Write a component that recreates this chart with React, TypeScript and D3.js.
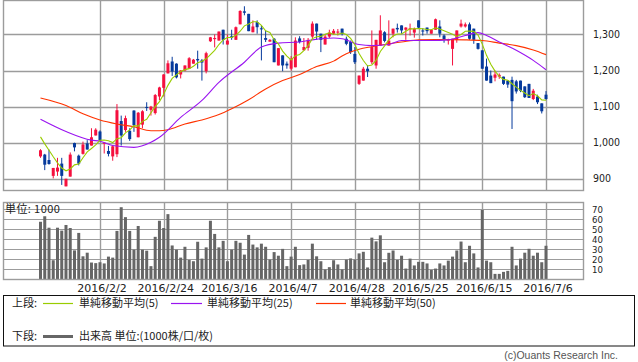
import React from "react";
import * as d3 from "d3";

// ---- data ----
const dateLabels = ["2016/2/2", "2016/2/24", "2016/3/16", "2016/4/7", "2016/4/28", "2016/5/25", "2016/6/15", "2016/7/6"];
const dateIdx = [14, 29, 44, 59, 74, 89, 104, 119];

const opens = [
  962, 967, 952, 908, 920, 942, 879, 906, 999, 964,
  969, 998, 992, 1020, 1031, 998, 977, 962, 968, 1060,
  1035, 1033, 1089, 1015, 1050, 1099, 1091, 1082, 1128, 1152,
  1192, 1225, 1219, 1189, 1200, 1205, 1219, 1232, 1228, 1198,
  1281, 1287, 1283, 1313, 1272, 1295, 1285, 1328, 1364, 1357,
  1306, 1334, 1317, 1290, 1280, 1288, 1214, 1242, 1219, 1205,
  1209, 1289, 1256, 1263, 1294, 1330, 1302, 1272, 1294, 1302,
  1305, 1316, 1288, 1279, 1246, 1163, 1172, 1205, 1223, 1214,
  1269, 1306, 1269, 1302, 1318, 1325, 1313, 1315, 1305, 1339,
  1311, 1319, 1302, 1313, 1322, 1297, 1283, 1260, 1285, 1322,
  1322, 1328, 1316, 1276, 1256, 1211, 1186, 1180, 1183, 1183,
  1172, 1174, 1170, 1172, 1156, 1163, 1121, 1128, 1109, 1133,
];
const highs = [
  982, 969, 981, 930, 958, 958, 900, 973, 1000, 967,
  1003, 1007, 1040, 1040, 1034, 1001, 991, 992, 1107, 1075,
  1075, 1040, 1090, 1085, 1090, 1112, 1102, 1135, 1155, 1190,
  1228, 1238, 1220, 1201, 1214, 1237, 1232, 1255, 1232, 1252,
  1293, 1300, 1308, 1313, 1300, 1313, 1322, 1367, 1378, 1357,
  1339, 1339, 1324, 1311, 1287, 1290, 1262, 1242, 1225, 1240,
  1292, 1295, 1290, 1290, 1336, 1330, 1302, 1300, 1313, 1315,
  1315, 1316, 1294, 1283, 1265, 1186, 1210, 1215, 1311, 1285,
  1353, 1309, 1339, 1316, 1330, 1325, 1320, 1330, 1319, 1339,
  1317, 1319, 1313, 1344, 1339, 1300, 1288, 1288, 1311, 1341,
  1333, 1333, 1316, 1276, 1256, 1233, 1200, 1200, 1192, 1183,
  1172, 1183, 1174, 1172, 1156, 1163, 1149, 1133, 1109, 1143,
];
const lows = [
  958, 924, 939, 901, 908, 883, 879, 906, 976, 937,
  967, 981, 992, 1020, 1004, 970, 962, 950, 960, 992,
  1030, 1005, 1030, 1015, 1040, 1088, 1075, 1078, 1118, 1128,
  1192, 1185, 1178, 1178, 1198, 1205, 1219, 1205, 1172, 1192,
  1279, 1264, 1283, 1272, 1272, 1285, 1285, 1328, 1353, 1309,
  1306, 1302, 1228, 1279, 1280, 1223, 1214, 1198, 1205, 1200,
  1209, 1275, 1256, 1255, 1288, 1285, 1251, 1272, 1290, 1299,
  1297, 1297, 1270, 1246, 1218, 1160, 1172, 1182, 1218, 1205,
  1269, 1278, 1269, 1292, 1305, 1302, 1285, 1297, 1291, 1316,
  1297, 1302, 1302, 1313, 1292, 1277, 1272, 1214, 1277, 1319,
  1319, 1285, 1274, 1258, 1205, 1172, 1165, 1170, 1177, 1160,
  1152, 1038, 1136, 1140, 1124, 1124, 1118, 1107, 1081, 1119,
];
const closes = [
  979, 939, 941, 930, 931, 908, 900, 967, 987, 942,
  995, 981, 1015, 1036, 1006, 1000, 969, 990, 1090, 1020,
  1068, 1010, 1048, 1083, 1087, 1097, 1100, 1132, 1153, 1189,
  1220, 1197, 1181, 1200, 1214, 1234, 1230, 1228, 1222, 1248,
  1292, 1290, 1308, 1285, 1283, 1291, 1320, 1365, 1360, 1309,
  1322, 1320, 1314, 1285, 1285, 1223, 1262, 1214, 1214, 1233,
  1283, 1279, 1265, 1285, 1330, 1308, 1285, 1294, 1305, 1310,
  1308, 1302, 1274, 1251, 1223, 1186, 1205, 1198, 1265, 1285,
  1311, 1282, 1283, 1316, 1314, 1311, 1319, 1317, 1316, 1319,
  1308, 1309, 1313, 1342, 1302, 1285, 1286, 1288, 1311, 1330,
  1328, 1288, 1285, 1260, 1205, 1172, 1165, 1189, 1188, 1163,
  1161, 1115, 1142, 1144, 1126, 1124, 1144, 1112, 1087, 1121,
];
const volumes = [
  57.5, 63, 51.6, 19.2, 51.6, 48.7, 54.3, 51.3, 29, 46.4,
  23.1, 26.7, 16.9, 16.3, 17.2, 16, 22.8, 21.8, 48.4, 72,
  62.1, 48.4, 29.7, 53.3, 29.7, 28.7, 13.3, 42.5, 58.5, 51.3,
  65.1, 33.9, 29.7, 21.8, 32.6, 19.5, 18.2, 37.6, 20.8, 32,
  58.5, 45.4, 32, 38.5, 18.2, 29.7, 38.5, 36.6, 24.8, 44.4,
  34.8, 32, 35.7, 32.6, 19.8, 27.3, 23.7, 30.5, 13.3, 22.8,
  32.6, 14.3, 15, 19.5, 35.7, 23.1, 18.2, 10, 12.3, 19.2,
  15, 10, 19.8, 21, 19.8, 26, 27.6, 12, 41.7, 38,
  44, 17.2, 26.6, 28.9, 19.5, 23.7, 10.9, 20.8, 14, 17.6,
  17.6, 16, 9.5, 10.9, 16, 14, 18.8, 22.8, 28.9, 37.8,
  17.2, 33.6, 26, 12, 69.3, 18.8, 17.2, 5.6, 5.6, 7.6,
  8.6, 32.6, 14, 20.8, 26.7, 30.6, 23.7, 26.7, 17.2, 33.6,
];
// closes of the 4 sessions before the first visible candle (for the 5-day average)
const prevCloses = [1035, 1030, 1020, 1016];

// 25- and 50-day averages at candle indices
const ma25Idx = [0, 6, 12, 14, 17, 22, 26, 28, 33, 38, 42, 48, 52, 56, 61, 64, 69, 71, 75, 78, 82, 85, 92, 96, 100, 103, 105, 108, 112, 116, 119];
const ma25Val = [1065, 1031, 1007, 1004, 992, 987, 1001, 1015, 1070, 1117, 1167, 1223, 1265, 1276, 1279, 1285, 1290, 1288, 1272, 1269, 1272, 1283, 1283, 1285, 1297, 1305, 1297, 1279, 1256, 1228, 1202];
const ma50Idx = [0, 6, 10, 14, 18, 22, 26, 28, 30, 34, 38, 42, 45, 49, 53, 57, 61, 65, 69, 71, 73, 75, 78, 82, 85, 89, 93, 100, 104, 108, 112, 116, 119];
const ma50Val = [1124, 1103, 1080, 1063, 1052, 1044, 1033, 1033, 1036, 1052, 1063, 1078, 1094, 1119, 1149, 1172, 1189, 1211, 1226, 1240, 1251, 1259, 1266, 1274, 1279, 1285, 1286, 1285, 1283, 1276, 1269, 1257, 1244];

const priceTicks = [900, 1000, 1100, 1200, 1300];
const volTicks = [10, 20, 30, 40, 50, 60, 70];

// ---- layout ----
const W = 638, H = 362;
const PL = 3.5, PR = 583.5;
const TOP0 = 0.5, TOP1 = 190.5;
const VOL0 = 202.5, VOL1 = 279.5;

const UP = "#f5103e";
const DOWN = "#063a9c";
const GRID = "#9c9c9c";
const NUM_FONT = "'DejaVu Sans Condensed', 'DejaVu Sans', sans-serif";
const JP_FONT = "'Noto Sans CJK JP', sans-serif";

export default function App() {
  const n = closes.length;
  const x = d3.scaleLinear().domain([0, n - 1]).range([40.5, 546]);
  const y = d3.scaleLinear().domain([867.5, 1394]).range([TOP1, TOP0]);
  const yv = d3.scaleLinear().domain([0, 76.7]).range([VOL1, VOL0]);

  const allCloses = [...prevCloses, ...closes];
  const ma5 = closes.map((_, i) => d3.mean(allCloses.slice(i, i + 5)) as number);

  const line5 = d3.line<number>().x((_, i) => x(i)).y((d) => y(d));
  const lineSparse = (idx: number[], val: number[]) =>
    d3.line<number>().x((_, i) => x(idx[i])).y((d) => y(d)).curve(d3.curveMonotoneX)(val) || "";

  const bodyW = 3;

  return (
    <svg width={W} height={H} style={{ position: "absolute", left: 0, top: 0, background: "#fff" }}>
      {/* top panel grid */}
      {priceTicks.map((t) => (
        <line key={"hp" + t} x1={PL} x2={PR} y1={Math.round(y(t)) + 0.5} y2={Math.round(y(t)) + 0.5} stroke={GRID} strokeWidth={1.4} />
      ))}
      {dateIdx.map((d) => (
        <line key={"vp" + d} x1={Math.round(x(d)) + 0.5} x2={Math.round(x(d)) + 0.5} y1={TOP0} y2={TOP1} stroke={GRID} strokeWidth={1.4} />
      ))}
      <rect x={PL} y={TOP0} width={PR - PL} height={TOP1 - TOP0} fill="none" stroke={GRID} strokeWidth={1.4} />
      {priceTicks.map((t) => (
        <text key={"pl" + t} x={593} y={y(t)} dy="0.35em" fontSize={10.5} fontFamily={NUM_FONT} fill="#222">
          {d3.format(",")(t)}
        </text>
      ))}

      {/* candles */}
      {closes.map((c, i) => {
        const o = opens[i];
        const up = c >= o;
        const col = up ? UP : DOWN;
        const cx = x(i);
        const top = y(Math.max(o, c));
        const h = Math.max(1, Math.abs(y(o) - y(c)));
        return (
          <g key={"c" + i}>
            <line x1={cx} x2={cx} y1={y(highs[i])} y2={y(lows[i])} stroke={col} strokeWidth={1} />
            <rect x={cx - bodyW / 2} y={top} width={bodyW} height={h} fill={col} />
          </g>
        );
      })}

      {/* moving averages */}
      <path d={lineSparse(ma50Idx, ma50Val)} fill="none" stroke="#ff3300" strokeWidth={1.1} />
      <path d={lineSparse(ma25Idx, ma25Val)} fill="none" stroke="#9a14f0" strokeWidth={1.1} />
      <path d={line5(ma5) || ""} fill="none" stroke="#99cc00" strokeWidth={1.1} />

      {/* volume panel */}
      {volTicks.map((t) => (
        <line key={"hv" + t} x1={PL} x2={PR} y1={Math.round(yv(t)) + 0.5} y2={Math.round(yv(t)) + 0.5} stroke={GRID} strokeWidth={1.2} />
      ))}
      {dateIdx.map((d) => (
        <line key={"vv" + d} x1={Math.round(x(d)) + 0.5} x2={Math.round(x(d)) + 0.5} y1={VOL0} y2={VOL1} stroke={GRID} strokeWidth={1.4} />
      ))}
      {volumes.map((v, i) => (
        <rect key={"v" + i} x={x(i) - 1.5} y={yv(v)} width={3} height={VOL1 - yv(v)} fill="#666" />
      ))}
      <rect x={PL} y={VOL0} width={PR - PL} height={VOL1 - VOL0} fill="none" stroke={GRID} strokeWidth={1.4} />
      {volTicks.map((t) => (
        <text key={"vl" + t} x={592} y={yv(t)} dy="0.35em" fontSize={9.5} fontFamily={NUM_FONT} fill="#222">
          {t}
        </text>
      ))}
      <text x={5} y={213} fontSize={11} letterSpacing={0.4} fontFamily={JP_FONT} fill="#222">単位: 1000</text>

      {/* date labels */}
      {dateIdx.map((d, k) => (
        <text key={"dl" + d} x={x(d) + 2} y={292} textAnchor="middle" fontSize={11} fontFamily="'DejaVu Sans', sans-serif" fill="#222">
          {dateLabels[k]}
        </text>
      ))}

      {/* legend */}
      <rect x={3.5} y={295.5} width={631} height={50.5} fill="none" stroke="#111" strokeWidth={1} />
      <text x={12} y={307} fontSize={11} fontFamily={JP_FONT} fill="#222">上段:</text>
      <line x1={43} x2={73} y1={303.5} y2={303.5} stroke="#99cc00" strokeWidth={1.2} />
      <text x={79} y={307} fontSize={11} fontFamily={JP_FONT} fill="#222">単純移動平均(5)</text>
      <line x1={171} x2={202} y1={303.5} y2={303.5} stroke="#9a14f0" strokeWidth={1.2} />
      <text x={207} y={307} fontSize={11} fontFamily={JP_FONT} fill="#222">単純移動平均(25)</text>
      <line x1={316} x2={346} y1={303.5} y2={303.5} stroke="#ff3300" strokeWidth={1.2} />
      <text x={350} y={307} fontSize={11} fontFamily={JP_FONT} fill="#222">単純移動平均(50)</text>
      <text x={12} y={340} fontSize={11} fontFamily={JP_FONT} fill="#222">下段:</text>
      <line x1={43} x2={73} y1={336.5} y2={336.5} stroke="#666" strokeWidth={3} />
      <text x={79} y={340} fontSize={11} fontFamily={JP_FONT} fill="#222">出来高 単位:(1000株/口/枚)</text>

      <text x={618} y={359} textAnchor="end" fontSize={10.5} fontFamily="'Liberation Sans', sans-serif" fill="#555">(c)Ouants Research Inc.</text>
    </svg>
  );
}
